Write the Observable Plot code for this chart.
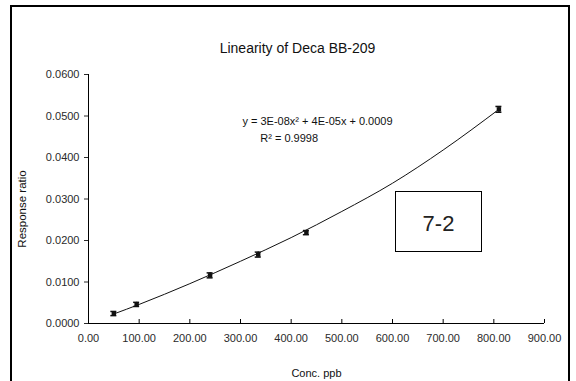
<!DOCTYPE html>
<html>
<head>
<meta charset="utf-8">
<script src="https://cdn.jsdelivr.net/npm/d3@7"></script>
<script src="https://cdn.jsdelivr.net/npm/@observablehq/plot@0.6"></script>
<style>
  html, body { margin: 0; padding: 0; background: #fff; }
  #wrap { position: relative; width: 576px; height: 381px; overflow: hidden; font-family: "Liberation Sans", Arial, sans-serif; }
  #frame { position: absolute; left: 10px; top: 5px; width: 560px; height: 400px; border: 2px solid #000; box-sizing: border-box; pointer-events: none; }
</style>
</head>
<body>
<div id="wrap"><div id="frame"></div></div>
<script>
const title = "Linearity of Deca BB-209";
const xLabel = "Conc. ppb";
const yLabel = "Response ratio";
const equation = "y = 3E-08x² + 4E-05x + 0.0009";
const rSquared = "R² = 0.9998";
const boxLabel = "7-2";

// measured points (conc, response ratio, error bar half-height)
const conc = [50, 95, 240, 335, 430, 810];
const ratio = [0.0024, 0.0046, 0.0116, 0.0166, 0.0219, 0.0516];
const err = [0.0005, 0.0005, 0.0006, 0.0006, 0.0005, 0.0007];

// trendline
const trendX = [50, 100, 200, 300, 400, 500, 600, 700, 810];
const trendY = [0.0023, 0.0046, 0.0096, 0.0150, 0.0207, 0.0270, 0.0338, 0.0418, 0.0516];

const xTicks = [0, 100, 200, 300, 400, 500, 600, 700, 800, 900];
const yTicks = [0, 0.01, 0.02, 0.03, 0.04, 0.05, 0.06];

const data = conc.map((c, i) => ({x: c, y: ratio[i], lo: ratio[i] - err[i], hi: ratio[i] + err[i]}));
const trend = trendX.map((x, i) => ({x, y: trendY[i]}));

const font = "'Liberation Sans', Arial, sans-serif";
const chart = Plot.plot({
  width: 576,
  height: 381,
  marginLeft: 88,
  marginRight: 32,
  marginTop: 74,
  marginBottom: 58,
  style: {fontFamily: font, fontSize: "11px", color: "#2a2a2a", background: "transparent"},
  x: {type: "linear", domain: [0, 900]},
  y: {type: "linear", domain: [0, 0.06]},
  marks: [
    Plot.axisY({ticks: yTicks, tickFormat: d3.format(".4f"), tickSize: 4, tickPadding: 5, label: null, fontSize: 11}),
    Plot.axisX({ticks: xTicks, tickFormat: d3.format(".2f"), tickSize: 0, tickPadding: 11, label: null, fontSize: 11}),
    Plot.ruleX(xTicks, {x: d => d, y1: 0, y2: 0, insetTop: -4, insetBottom: 0, stroke: "#000"}),
    Plot.ruleX([0], {stroke: "#000"}),
    Plot.ruleY([0], {stroke: "#000"}),
    Plot.line(trend, {x: "x", y: "y", curve: "monotone-x", stroke: "#111", strokeWidth: 1}),
    Plot.ruleX(data, {x: "x", y1: "lo", y2: "hi", stroke: "#111", strokeWidth: 1.5}),
    Plot.ruleY(data, {y: "lo", x1: "x", x2: "x", insetLeft: -3, insetRight: -3, stroke: "#111", strokeWidth: 1.5}),
    Plot.ruleY(data, {y: "hi", x1: "x", x2: "x", insetLeft: -3, insetRight: -3, stroke: "#111", strokeWidth: 1.5}),
    Plot.dot(data, {x: "x", y: "y", symbol: "square", r: 2.5, fill: "#111"}),
    Plot.text([title], {frameAnchor: "top", dx: -19, dy: -31, fontSize: 14, fill: "#111"}),
    Plot.text([yLabel], {frameAnchor: "left", textAnchor: "middle", dx: -66, dy: 10, rotate: -90, fontSize: 11.5, fill: "#111"}),
    Plot.text([xLabel], {frameAnchor: "bottom", dy: 53, fontSize: 11, fill: "#111"}),
    Plot.text([equation], {x: () => 452, y: () => 0.0487, fontSize: 11, fill: "#111"}),
    Plot.text([rSquared], {x: () => 396, y: () => 0.0446, fontSize: 11, fill: "#111"})
  ]
});
chart.style.position = "absolute";
chart.style.left = "0";
chart.style.top = "0";
document.getElementById("wrap").appendChild(chart);

const box = document.createElement("div");
box.textContent = boxLabel;
Object.assign(box.style, {
  position: "absolute", left: "395px", top: "191px", width: "87px", height: "61px",
  border: "1.5px solid #000", boxSizing: "border-box", background: "#fff",
  fontSize: "22px", lineHeight: "64px", textAlign: "center", color: "#222",
  fontFamily: font
});
document.getElementById("wrap").appendChild(box);
</script>
</body>
</html>
